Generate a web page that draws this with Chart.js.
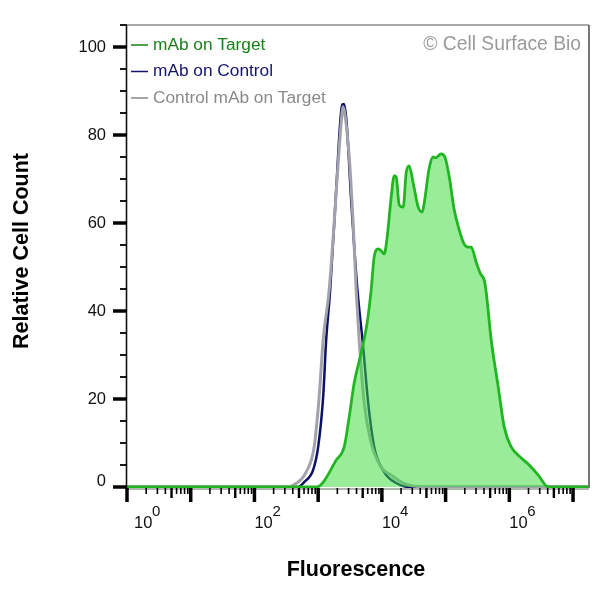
<!DOCTYPE html>
<html>
<head>
<meta charset="utf-8">
<style>
  html, body { margin: 0; padding: 0; background: #fff; }
  canvas { display: block; }
</style>
<script src="https://cdn.jsdelivr.net/npm/chart.js@4"></script>
</head>
<body>
<canvas id="histogram" width="600" height="600"></canvas>
<script>
// values
const targetX = [1, 300, 965, 1243, 1917, 2560, 3070, 3670, 4730, 5870, 6790, 7570, 8750, 9400, 10870, 12110, 14000, 15600, 16770, 18700, 21600, 24060, 26800, 31000, 37150, 42950, 46130, 55300, 63860, 68700, 85300, 98600, 114000, 136500, 163600, 196000, 226400, 252400, 302000, 349000, 403700, 433500, 520000, 670000, 832000, 1071000, 1538000, 2050000, 2844000, 4083000, 17800000];
const targetY = [0, 0, 0, 1.4, 6.1, 9.1, 15.9, 23.6, 30.5, 37.3, 44.8, 52.3, 54.1, 53.9, 53, 56.8, 65.9, 70.7, 70.5, 64.1, 63.6, 71.4, 73, 69.1, 63.6, 62.5, 64.5, 72.5, 75, 74.8, 75.7, 74.8, 70.5, 63, 58.4, 55.2, 54.5, 54.5, 51.1, 48.6, 47, 44.3, 33.4, 22.7, 13.6, 9.1, 6.6, 5, 2.7, 0, 0];
const controlX = [1, 485, 603, 835, 1000, 1198, 1336, 1543, 1917, 2215, 2400, 2560, 2800, 3297, 4093, 5086, 6095, 7570, 10870, 16770, 26800, 17800000];
const controlY = [0, 0, 1.1, 3.9, 9.1, 20.5, 33.4, 44.8, 67.5, 82.7, 87, 87, 82.7, 65.2, 45.5, 31.8, 19.1, 9.1, 3.4, 0.9, 0, 0];
const isotypeX = [1, 315, 420, 648, 865, 1037, 1198, 1489, 1783, 2060, 2340, 2440, 2600, 3070, 3540, 3950, 4400, 5270, 6790, 9750, 14000, 21600, 49500, 17800000];
const isotypeY = [0, 0, 0.5, 3.4, 9.1, 20.5, 33.4, 44.8, 60, 73.6, 84.1, 86.4, 85.2, 75, 60, 44.8, 33.4, 19.1, 10, 4.5, 2.7, 0.9, 0, 0];

const xDecades = [1, 10, 100, 1000, 10000, 100000, 1000000, 10000000];
const xLabelValues = [1, 100, 10000, 1000000];
const xLabelExponents = ['0', '2', '4', '6'];
const yMajorTicks = [0, 20, 40, 60, 80, 100];
const yMinorTicks = [5, 10, 15, 25, 30, 35, 45, 50, 55, 65, 70, 75, 85, 90, 95, 105];

const seriesNames = ['mAb on Target', 'mAb on Control', 'Control mAb on Target'];
const legendColors = ['#1a801a', '#14146e', '#8a8a8e'];
const FONT = '"Liberation Sans", Arial, sans-serif';

function toPoints(xs, ys) {
  return xs.map((x, i) => ({ x: x, y: ys[i] }));
}

// ticks, frame, legend and the watermark are all hand drawn, the built in ones can't do this look
const flowAxes = {
  id: 'flowAxes',
  afterDraw(chart) {
    const ctx = chart.ctx;
    const area = chart.chartArea;
    const xs = chart.scales.x;
    const ys = chart.scales.y;

    ctx.save();
    ctx.lineCap = 'butt';

    // frame
    ctx.strokeStyle = '#555';
    ctx.lineWidth = 1.2;
    ctx.beginPath();
    ctx.moveTo(area.left, area.top);
    ctx.lineTo(area.right, area.top);
    ctx.stroke();
    ctx.strokeStyle = '#777';
    ctx.lineWidth = 2;
    ctx.beginPath();
    ctx.moveTo(area.right, area.top);
    ctx.lineTo(area.right, area.bottom);
    ctx.stroke();
    ctx.strokeStyle = '#111';
    ctx.lineWidth = 1.6;
    ctx.beginPath();
    ctx.moveTo(area.left - 0.5, area.top);
    ctx.lineTo(area.left - 0.5, area.bottom);
    ctx.stroke();
    // dark edge showing just under the green baseline
    ctx.strokeStyle = '#5f6f5f';
    ctx.lineWidth = 1;
    ctx.beginPath();
    ctx.moveTo(area.left, area.bottom + 1);
    ctx.lineTo(area.right, area.bottom + 1);
    ctx.stroke();

    // y ticks
    ctx.strokeStyle = '#000';
    ctx.lineWidth = 3.5;
    yMajorTicks.forEach(v => {
      const py = ys.getPixelForValue(v);
      ctx.beginPath();
      ctx.moveTo(113, py);
      ctx.lineTo(area.left, py);
      ctx.stroke();
    });
    ctx.lineWidth = 1.8;
    yMinorTicks.forEach(v => {
      const py = ys.getPixelForValue(v);
      ctx.beginPath();
      ctx.moveTo(120, py);
      ctx.lineTo(area.left, py);
      ctx.stroke();
    });

    // x ticks
    xDecades.forEach(d => {
      ctx.lineWidth = 3.5;
      let px = xs.getPixelForValue(d);
      ctx.beginPath();
      ctx.moveTo(px, area.bottom);
      ctx.lineTo(px, 502);
      ctx.stroke();
      for (let m = 2; m < 10; m++) {
        const value = d * m;
        if (value > xs.max) break;
        px = xs.getPixelForValue(value);
        ctx.lineWidth = m === 5 ? 2.4 : 1.6;
        ctx.beginPath();
        ctx.moveTo(px, area.bottom);
        ctx.lineTo(px, m === 5 ? 498 : 494);
        ctx.stroke();
      }
    });

    // y labels
    ctx.fillStyle = '#111';
    ctx.font = '16.5px ' + FONT;
    ctx.textAlign = 'right';
    ctx.textBaseline = 'middle';
    yMajorTicks.forEach(v => {
      const py = ys.getPixelForValue(v);
      ctx.fillText(String(v), 106, v === 0 ? py - 6 : py);
    });

    // x labels, "10" with a raised exponent
    ctx.textAlign = 'left';
    ctx.textBaseline = 'alphabetic';
    xLabelValues.forEach((v, i) => {
      const px = Math.max(xs.getPixelForValue(v), area.left + 7);
      ctx.font = '16.5px ' + FONT;
      ctx.fillText('10', px, 528);
      ctx.font = '15px ' + FONT;
      ctx.fillText(xLabelExponents[i], px + 18, 516);
    });

    // axis titles, placed by hand since they sit off centre
    ctx.fillStyle = '#000';
    ctx.font = 'bold 21.5px ' + FONT;
    ctx.textAlign = 'center';
    ctx.textBaseline = 'middle';
    ctx.fillText('Fluorescence', 356, 570);
    ctx.save();
    ctx.translate(22, 251);
    ctx.rotate(-Math.PI / 2);
    ctx.fillText('Relative Cell Count', 0, 0);
    ctx.restore();

    // legend
    ctx.font = '17.3px ' + FONT;
    ctx.textAlign = 'left';
    ctx.textBaseline = 'middle';
    const legendRows = [45, 71.5, 98];
    seriesNames.forEach((name, i) => {
      ctx.strokeStyle = legendColors[i];
      ctx.lineWidth = 1.5;
      ctx.beginPath();
      ctx.moveTo(131, legendRows[i]);
      ctx.lineTo(148, legendRows[i]);
      ctx.stroke();
      ctx.fillStyle = legendColors[i];
      ctx.fillText(name, 153, legendRows[i]);
    });

    // watermark
    ctx.fillStyle = '#9a9a9a';
    ctx.font = '19.3px ' + FONT;
    ctx.textAlign = 'right';
    ctx.fillText('\u00A9 Cell Surface Bio', 581, 45);

    ctx.restore();
  }
};

new Chart(document.getElementById('histogram').getContext('2d'), {
  type: 'line',
  data: {
    datasets: [
      {
        label: seriesNames[0],
        data: toPoints(targetX, targetY),
        borderColor: '#22b522',
        borderWidth: 2.8,
        backgroundColor: 'rgba(60, 220, 60, 0.52)',
        fill: 'origin',
        cubicInterpolationMode: 'monotone',
        order: 0
      },
      {
        label: seriesNames[1],
        data: toPoints(controlX, controlY),
        borderColor: '#0c1068',
        borderWidth: 2.5,
        fill: false,
        cubicInterpolationMode: 'monotone',
        order: 2
      },
      {
        label: seriesNames[2],
        data: toPoints(isotypeX, isotypeY),
        borderColor: '#a2a2ac',
        borderWidth: 3,
        fill: false,
        cubicInterpolationMode: 'monotone',
        order: 1
      }
    ]
  },
  options: {
    responsive: false,
    animation: false,
    layout: { padding: { top: 25, right: 11, left: 0, bottom: 0 } },
    elements: { point: { radius: 0 } },
    plugins: {
      legend: { display: false },
      tooltip: { enabled: false },
      filler: { drawTime: 'beforeDatasetDraw' }
    },
    scales: {
      x: {
        type: 'logarithmic',
        min: 1,
        max: 17800000,
        grid: { display: false },
        border: { display: false },
        ticks: { display: false },
        afterFit(scale) { scale.height = 112; }
      },
      y: {
        min: -0.23,
        max: 105,
        grid: { display: false },
        border: { display: false },
        ticks: { display: false },
        afterFit(scale) { scale.width = 127; }
      }
    }
  },
  plugins: [flowAxes]
});
</script>
</body>
</html>
